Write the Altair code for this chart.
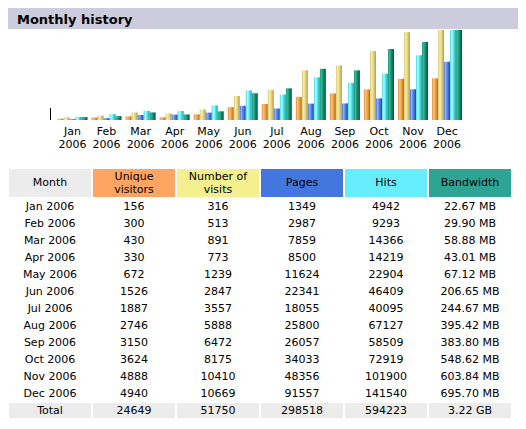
import altair as alt
import pandas as pd

# ---- data ----
months = ["Jan", "Feb", "Mar", "Apr", "May", "Jun", "Jul", "Aug", "Sep", "Oct", "Nov", "Dec"]
year = "2006"
visitors = [156, 300, 430, 330, 672, 1526, 1887, 2746, 3150, 3624, 4888, 4940]
visits = [316, 513, 891, 773, 1239, 2847, 3557, 5888, 6472, 8175, 10410, 10669]
pages = [1349, 2987, 7859, 8500, 11624, 22341, 18055, 25800, 26057, 34033, 48356, 91557]
hits = [4942, 9293, 14366, 14219, 22904, 46409, 40095, 67127, 58509, 72919, 101900, 141540]
bandwidth_mb = [22.67, 29.90, 58.88, 43.01, 67.12, 206.65, 244.67, 395.42, 383.80, 548.62, 603.84, 695.70]

columns = ["Month", "Unique visitors", "Number of visits", "Pages", "Hits", "Bandwidth"]
header_labels = ["Month", "Unique\nvisitors", "Number of\nvisits", "Pages", "Hits", "Bandwidth"]
header_colors = ["#ECECEC", "#FFA563", "#F4F090", "#4477DD", "#66EEFF", "#2EA495"]
series = ["visitors", "visits", "pages", "hits", "bandwidth"]
title_text = "Monthly history"

FONT = "DejaVu Sans"

# ---- bar data (AWStats scaling: visitors/visits by max visits, pages/hits by max hits) ----
rows = []
for i, m in enumerate(months):
    rows.append(dict(month=m, series="visitors", h=visitors[i] / max(visits)))
    rows.append(dict(month=m, series="visits", h=visits[i] / max(visits)))
    rows.append(dict(month=m, series="pages", h=pages[i] / max(hits)))
    rows.append(dict(month=m, series="hits", h=hits[i] / max(hits)))
    rows.append(dict(month=m, series="bandwidth", h=bandwidth_mb[i] / max(bandwidth_mb)))
bars_df = pd.DataFrame(rows)


def grad(stops):
    return alt.LinearGradient(
        gradient="linear",
        stops=[alt.GradientStop(offset=o, color=c) for o, c in stops],
        x1=0, x2=1, y1=0, y2=0,
    )


gradients = {
    "visitors": grad([(0, "#D88A30"), (0.25, "#F8C47E"), (0.6, "#E89E45"), (1, "#B86A10")]),
    "visits": grad([(0, "#D8C870"), (0.3, "#F6EEAC"), (0.6, "#E2D282"), (1, "#B0A048")]),
    "pages": grad([(0, "#4A78E0"), (0.25, "#90AEF4"), (0.6, "#4C7AE2"), (1, "#1E44A8")]),
    "hits": grad([(0, "#40D8E0"), (0.3, "#B4FAFA"), (0.6, "#50E6EE"), (1, "#16A4B4")]),
    "bandwidth": grad([(0, "#1E9C7C"), (0.25, "#3CB496"), (0.6, "#10886A"), (1, "#005A3C")]),
}

month_scale = alt.Scale(domain=months, range=[47.5, 456.1], paddingInner=0, paddingOuter=0)

bar_layers = []
for s in series:
    bar_layers.append(
        alt.Chart(bars_df)
        .transform_filter(alt.datum.series == s)
        .mark_bar(fill=gradients[s], strokeWidth=0)
        .encode(
            x=alt.X("month:N", scale=month_scale, axis=None, sort=months),
            xOffset=alt.XOffset("series:N", scale=alt.Scale(domain=series, paddingInner=0, paddingOuter=0.3375)),
            y=alt.Y("h:Q", scale=alt.Scale(domain=[0, 1], nice=False), axis=None),
        )
    )

spacer = alt.Chart(pd.DataFrame({"a": [0]})).mark_rule(color="#000000", strokeWidth=1).encode(
    x=alt.value(42.5), y=alt.value(78), y2=alt.value(90)
)

bars = alt.layer(*bar_layers, spacer).properties(width=510, height=90)

# ---- month labels ----
labels_df = pd.DataFrame({"month": months, "label": [f"{m}\n{year}" for m in months]})
labels = (
    alt.Chart(labels_df)
    .mark_text(lineBreak="\n", baseline="top", align="center", fontSize=11, font=FONT, lineHeight=13, color="#000000")
    .encode(
        x=alt.X("month:N", scale=month_scale, axis=None, sort=months),
        y=alt.value(5),
        text="label:N",
    )
    .properties(width=510, height=47)
)

# ---- title bar ----
title = (
    alt.Chart(pd.DataFrame({"t": [title_text]}))
    .mark_text(align="left", baseline="middle", fontSize=13, fontWeight="bold", font=FONT, color="#000000")
    .encode(x=alt.value(9), y=alt.value(12), text="t:N")
    .properties(width=510, height=21, view=alt.ViewBackground(fill="#CCCCDD", strokeWidth=0))
)

# ---- table header ----
col_scale = alt.Scale(domain=columns, paddingInner=2 / 84, paddingOuter=1 / 84)
header_df = pd.DataFrame({
    "col": columns,
    "label": header_labels,
    "lines": [len(h.split("\n")) for h in header_labels],
})
header_bg = alt.Chart(header_df).mark_bar(strokeWidth=0).encode(
    x=alt.X("col:N", scale=col_scale, axis=None, sort=columns),
    color=alt.Color("col:N", scale=alt.Scale(domain=columns, range=header_colors), legend=None),
)
header_txt1 = alt.Chart(header_df).transform_filter(alt.datum.lines == 1).mark_text(
    baseline="middle", align="center", fontSize=11, font=FONT, color="#000000"
).encode(
    x=alt.X("col:N", scale=col_scale, axis=None, sort=columns),
    y=alt.value(14),
    text="label:N",
)
header_txt2 = alt.Chart(header_df).transform_filter(alt.datum.lines == 2).mark_text(
    lineBreak="\n", baseline="middle", align="center", fontSize=11, font=FONT, lineHeight=12.7, color="#000000"
).encode(
    x=alt.X("col:N", scale=col_scale, axis=None, sort=columns),
    y=alt.value(8.3),
    text="label:N",
)
header = alt.layer(header_bg, header_txt1, header_txt2).properties(width=504, height=28)

# ---- table body ----
row_names = [f"{m} {year}" for m in months] + ["Total"]
cells = []
for i, m in enumerate(months):
    r = row_names[i]
    vals = [r, str(visitors[i]), str(visits[i]), str(pages[i]), str(hits[i]), f"{bandwidth_mb[i]:.2f} MB"]
    for c, v in zip(columns, vals):
        cells.append(dict(row=r, col=c, text=v))
total_vals = [
    "Total", str(sum(visitors)), str(sum(visits)), str(sum(pages)), str(sum(hits)),
    f"{sum(bandwidth_mb) / 1024:.2f} GB",
]
for c, v in zip(columns, total_vals):
    cells.append(dict(row="Total", col=c, text=v))
cells_df = pd.DataFrame(cells)

row_scale = alt.Scale(domain=row_names, paddingInner=2 / 17, paddingOuter=1 / 17)
total_bg = (
    alt.Chart(cells_df)
    .transform_filter(alt.datum.row == "Total")
    .mark_rect(color="#ECECEC", strokeWidth=0)
    .encode(
        x=alt.X("col:N", scale=col_scale, axis=None, sort=columns),
        y=alt.Y("row:N", scale=row_scale, axis=None, sort=row_names),
    )
)
cell_txt = alt.Chart(cells_df).mark_text(
    baseline="middle", align="center", fontSize=11, font=FONT, color="#000000"
).encode(
    x=alt.X("col:N", scale=col_scale, axis=None, sort=columns),
    y=alt.Y("row:N", scale=row_scale, axis=None, sort=row_names),
    text="text:N",
)
table = alt.layer(total_bg, cell_txt).properties(width=504, height=221)

chart = (
    alt.vconcat(title, bars, labels, header, table, spacing=1, bounds="flush")
    .properties(padding=0, background="#FFFFFF")
    .configure_view(strokeWidth=0)
)

chart.save("out.html", embed_options={"renderer": "svg", "actions": False})
